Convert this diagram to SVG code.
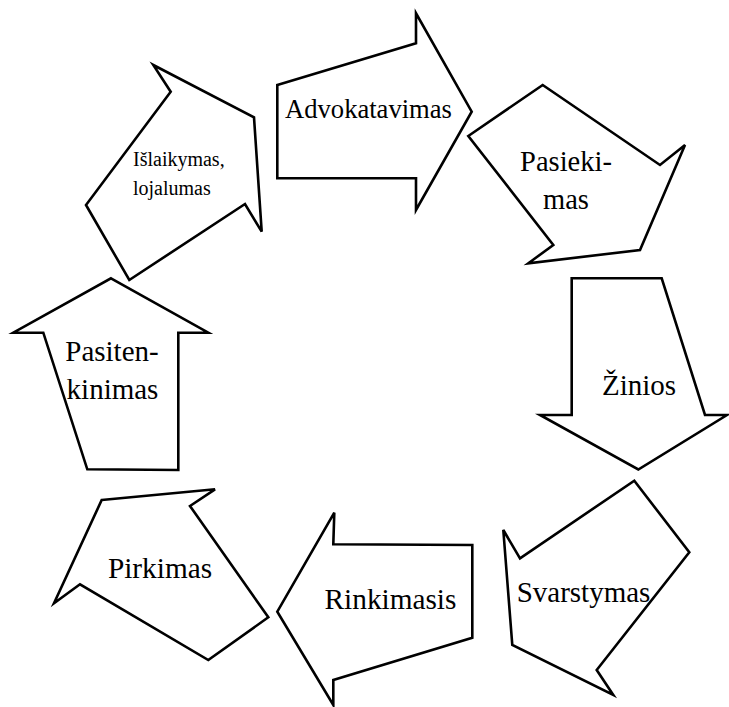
<svg xmlns="http://www.w3.org/2000/svg" width="729" height="707" viewBox="0 0 729 707">
  <style>
    .arrow { fill: #ffffff; stroke: #000000; stroke-width: 2.6; stroke-linejoin: miter; }
    .lbl { font-family: "Liberation Serif", "Times New Roman", serif; fill: #000000; text-anchor: middle; }
    .lbl-left { font-family: "Liberation Serif", "Times New Roman", serif; fill: #000000; text-anchor: start; }
  </style>
  <rect width="729" height="707" fill="#ffffff"/>

  <!-- cycle stages, each an arrow-shaped block -->
  <g id="advokatavimas">
    <polygon class="arrow" points="277.3,85 416,43.3 416,13.3 471.7,111.7 416,210 416,178.3 277.3,178.3"/>
    <text class="lbl" x="368.5" y="118" font-size="26.6">Advokatavimas</text>
  </g>

  <g id="pasiekimas">
    <polygon class="arrow" points="468.3,136 542.7,85 660,165 685,145 640,250 528.3,263.3 553.3,245"/>
    <text class="lbl" x="566" y="171" font-size="28.5">Pasieki-</text>
    <text class="lbl" x="566" y="208.5" font-size="28.5">mas</text>
  </g>

  <g id="zinios">
    <polygon class="arrow" points="571.7,278.3 661.7,278.3 705,415 727,415 638.3,469.5 540,415 571.7,415"/>
    <text class="lbl" x="639" y="395" font-size="29">Žinios</text>
  </g>

  <g id="svarstymas">
    <polygon class="arrow" points="634.3,480.7 689.3,552.3 596.7,670 613.3,695 512.3,645 503.3,530 520,558.3"/>
    <text class="lbl" x="583.5" y="601.5" font-size="29">Svarstymas</text>
  </g>

  <g id="rinkimasis">
    <polygon class="arrow" points="334.3,512.7 333.3,544.3 472.3,545 472.3,637.7 333.3,680 333.3,705 277.3,611.7"/>
    <text class="lbl" x="390.5" y="608.5" font-size="29.3">Rinkimasis</text>
  </g>

  <g id="pirkimas">
    <polygon class="arrow" points="101.7,500 215,489.3 190,506 268.3,617.3 208.3,660 80,584.3 54,603.3"/>
    <text class="lbl" x="160" y="578" font-size="29.3">Pirkimas</text>
  </g>

  <g id="pasitenkinimas">
    <polygon class="arrow" points="111,278.3 208.3,332.7 178.3,332.7 178.3,470 87.3,469.3 43.3,332.7 13.3,332.7"/>
    <text class="lbl" x="112" y="360.7" font-size="29">Pasiten-</text>
    <text class="lbl" x="112.5" y="399.3" font-size="29">kinimas</text>
  </g>

  <g id="islaikymas">
    <polygon class="arrow" points="153.3,65 254,117.3 261.7,231.7 245,204 129.3,280 86,205 170.7,91.7"/>
    <text class="lbl-left" x="133" y="166" font-size="20">Išlaikymas,</text>
    <text class="lbl-left" x="133" y="195" font-size="20">lojalumas</text>
  </g>

  <!-- the stages join by shape only; no separate connector lines -->
  <g id="connectors"></g>
</svg>
